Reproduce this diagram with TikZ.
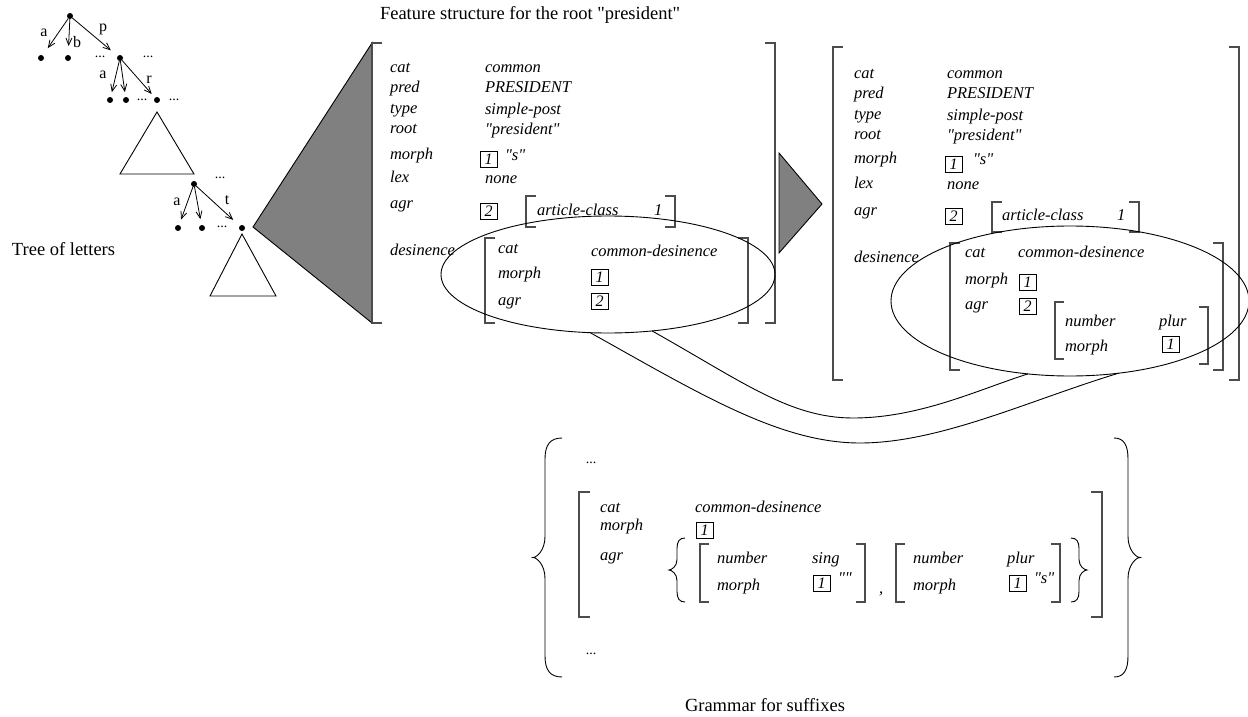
\documentclass[tikz,border=0pt]{standalone}
\usepackage{fontspec}
\setmainfont{Liberation Serif}[Ligatures=TeXOff]
\usetikzlibrary{arrows.meta,shapes.geometric}
% square bracket: x, top, bottom, signed tick length
\newcommand\sqbr[4]{\draw[brk] ({#1+(#4)},#2) -- (#1,#2) -- (#1,#3) -- ({#1+(#4)},#3);}
% curly brace: end x, stem x, tip x, top, bottom, bend size
\newcommand\curlyb[6]{%
  \draw[ln] (#1,#4) .. controls ({#2+0.3*(#1-#2)},#4) and (#2,{#4+0.5*#6}) .. (#2,{#4+1.5*#6})
    -- (#2,{(#4+#5)/2-1.5*#6}) .. controls (#2,{(#4+#5)/2-0.5*#6}) and ({#3+0.3*(#2-#3)},{(#4+#5)/2}) .. (#3,{(#4+#5)/2})
    .. controls ({#3+0.3*(#2-#3)},{(#4+#5)/2}) and (#2,{(#4+#5)/2+0.5*#6}) .. (#2,{(#4+#5)/2+1.5*#6})
    -- (#2,{#5-1.5*#6}) .. controls (#2,{#5-0.5*#6}) and ({#2+0.3*(#1-#2)},#5) .. (#1,#5);}
\begin{document}
\begin{tikzpicture}[x=1pt,y=-1pt,
  every node/.style={inner sep=0pt,outer sep=0pt},
  plain/.style={anchor=west,font=\fontsize{18.5}{20}\selectfont,text height=12.5pt,text depth=4pt},
  it/.style={anchor=west,font=\fontsize{16.5}{18}\selectfont\itshape,text height=11pt,text depth=3.6pt},
  tag/.style={draw,line width=0.8pt,anchor=west,minimum width=17pt,minimum height=16pt,
              font=\fontsize{16}{18}\selectfont\itshape,text height=11pt,text depth=0pt},
  tlab/.style={font=\fontsize{16}{16}\selectfont},
  dts/.style={font=\fontsize{14}{14}\selectfont},
  dot/.style={circle,fill,minimum size=6pt},
  arr/.style={-{Straight Barb[length=7pt,width=6pt]},line width=0.8pt},
  ln/.style={line width=0.9pt},
  brk/.style={draw=black!70,line width=1.3pt},
  greytri/.style={draw,line width=0.9pt,fill=black!50},
  oval/.style={draw,ellipse,line width=0.9pt,inner sep=0pt}]
\useasboundingbox (0,0) rectangle (1248,717);
\fill[white] (0,0) rectangle (1248,717);

% ---------------- tree of letters ----------------
\node[dot] (r0) at (70,16) {};
\node[dot] (r0a) at (41,58) {};
\node[dot] (r0b) at (68,58) {};
\node[dts] (r0x) at (100,57) {...};
\node[dot] (r1) at (120,58) {};
\node[dts] (r0y) at (148,57) {...};
\draw[arr,shorten >=9pt] (r0) -- (r0a);
\draw[arr,shorten >=9pt] (r0) -- (r0b);
\draw[arr,shorten >=9pt] (r0) -- (r1);
\node[tlab] (la0) at (44,33) {a};
\node[tlab] (lb0) at (77,42) {b};
\node[tlab] (lp0) at (103,29) {p};

\node[dot] (r1a) at (110,100) {};
\node[dot] (r1b) at (126,100) {};
\node[dts] (r1x) at (142,100) {...};
\node[dot] (r2) at (157,100) {};
\node[dts] (r1y) at (174,100) {...};
\draw[arr,shorten >=5pt] (r1) -- (r1a);
\draw[arr,shorten >=5pt] (r1) -- (r1b);
\draw[arr,shorten >=5pt] (r1) -- (r2);
\node[tlab] (la1) at (103,75) {a};
\node[tlab] (lr1) at (149,80) {r};
\draw[ln] (157,112) -- (120,174) -- (194,174) -- cycle;

\node[dts] (r2x) at (220,178) {...};
\node[dot] (r3) at (194,184) {};
\node[dot] (r3a) at (178,228) {};
\node[dot] (r3b) at (202,228) {};
\node[dts] (r3x) at (222,227) {...};
\node[dot] (r4) at (242,228) {};
\draw[arr,shorten >=6pt] (r3) -- (r3a);
\draw[arr,shorten >=6pt] (r3) -- (r3b);
\draw[arr,shorten >=9pt] (r3) -- (r4);
\node[tlab] (la3) at (177,202) {a};
\node[tlab] (lt3) at (227,200) {t};
\draw[ln] (242,234) -- (210,296) -- (276,296) -- cycle;

\node[plain] (treecap) at (12,251) {Tree of letters};

% ---------------- pointers between the structures ----------------
\draw[greytri] (253,227) -- (372,43) -- (372,323) -- cycle;
\draw[greytri] (779,153) -- (822,204) -- (779,253) -- cycle;

% ---------------- feature structure of the root ----------------
\node[plain] (fscap) at (380,15) {Feature structure for the root "president"};
\sqbr{372}{43}{323}{10}
\sqbr{775}{43}{323}{-10}
\foreach \k/\y/\t in {cat/69/cat,pred/89/pred,type/110/type,root/130/root,morph/156/morph,lex/179/lex,agr/205/agr,des/252/desinence}
  \node[it] (a\k) at (390,\y) {\t};
\foreach \k/\y/\t in {cat/69/common,pred/89/PRESIDENT,type/111/simple-post,root/131/"president",lex/180/none}
  \node[it] (av\k) at (485,\y) {\t};
\node[tag] (amtag) at (480,159) {1};
\node[it] (ams) at (505,157) {"s"};
\node[tag] (aatag) at (480,211) {2};
\sqbr{526}{196}{227}{10}
\sqbr{675}{196}{227}{-10}
\node[it] (aart) at (537,212) {article-class};
\node[it] (aone) at (654,212) {1};
\sqbr{485}{238}{323}{10}
\sqbr{748}{238}{323}{-10}
\node[it] (adcat) at (498,250) {cat};
\node[it] (admorph) at (498,275) {morph};
\node[it] (adagr) at (498,302) {agr};
\node[it] (adcatv) at (591,253) {common-desinence};
\node[tag] (admtag) at (591,277) {1};
\node[tag] (adatag) at (591,301) {2};
\node[oval,minimum width=334pt,minimum height=117pt] (e1) at (608,274.5) {};

% ---------------- structure after unification ----------------
\sqbr{833}{47}{380}{10}
\sqbr{1239}{47}{380}{-10}
\foreach \k/\y/\t in {cat/75/cat,pred/95/pred,type/116/type,root/136/root,morph/160/morph,lex/185/lex,agr/212/agr,des/259/desinence}
  \node[it] (b\k) at (854,\y) {\t};
\foreach \k/\y/\t in {cat/75/common,pred/95/PRESIDENT,type/117/simple-post,root/137/"president",lex/186/none}
  \node[it] (bv\k) at (947,\y) {\t};
\node[tag] (bmtag) at (945,164) {1};
\node[it] (bms) at (973,161) {"s"};
\node[tag] (batag) at (945,216) {2};
\sqbr{992}{202}{232}{10}
\sqbr{1139}{202}{232}{-10}
\node[it] (bart) at (1002,217) {article-class};
\node[it] (bone) at (1117,217) {1};
\sqbr{950}{243}{370}{10}
\sqbr{1223}{243}{370}{-10}
\node[it] (bdcat) at (965,254) {cat};
\node[it] (bdmorph) at (965,281) {morph};
\node[it] (bdagr) at (965,306) {agr};
\node[it] (bdcatv) at (1018,254) {common-desinence};
\node[tag] (bdmtag) at (1019,282) {1};
\node[tag] (bdatag) at (1019,306) {2};
\sqbr{1055}{302}{359}{9}
\sqbr{1208}{307}{364}{-9}
\node[it] (bnnum) at (1065,323) {number};
\node[it] (bnplur) at (1159,323) {plur};
\node[it] (bnmorph) at (1065,348) {morph};
\node[tag] (bnmtag) at (1162,344) {1};
\node[oval,minimum width=358pt,minimum height=150pt] (e2) at (1070,301) {};

% ---------------- tube joining the two desinence parts ----------------
\coordinate (lowA) at (860,443);
\coordinate (lowB) at (853,418);
\draw[ln] (e1.253) .. controls (700,394) and (780,443) .. (lowA)
  .. controls (940,443) and (1030,400) .. (e2.304);
\draw[ln] (e1.308) .. controls (743,382) and (790,418) .. (lowB)
  .. controls (920,418) and (980,389) .. (e2.240);

% ---------------- grammar for suffixes ----------------
\curlyb{562}{545}{533}{438}{677}{14}
\curlyb{1114}{1128}{1140}{438}{677}{14}
\node[dts] (gdots1) at (591,463) {...};
\node[dts] (gdots2) at (591,654) {...};
\sqbr{579}{492}{617}{11}
\sqbr{1102}{492}{617}{-11}
\node[it] (gcat) at (600,509) {cat};
\node[it] (gmorph) at (600,527) {morph};
\node[it] (gagr) at (600,557) {agr};
\node[it] (gcatv) at (695,509) {common-desinence};
\node[tag] (gmtag) at (696,530) {1};
\curlyb{685}{677}{669}{538}{602}{7}
\curlyb{1071}{1079}{1087}{538}{602}{7}
\sqbr{700}{544}{602}{9}
\sqbr{865}{544}{602}{-9}
\node[it] (gsnum) at (717,560) {number};
\node[it] (gssing) at (812,560) {sing};
\node[it] (gsmorph) at (717,587) {morph};
\node[tag] (gstag) at (813,583) {1};
\node[it] (gsempty) at (838,580) {""};
\node[it] (gcomma) at (879,590) {,};
\sqbr{896}{544}{602}{9}
\sqbr{1060}{544}{602}{-9}
\node[it] (gpnum) at (913,560) {number};
\node[it] (gpplur) at (1007,560) {plur};
\node[it] (gpmorph) at (913,587) {morph};
\node[tag] (gptag) at (1009,583) {1};
\node[it] (gps) at (1034,580) {"s"};
\node[plain] (gramcap) at (685,707) {Grammar for suffixes};
\end{tikzpicture}
\end{document}
